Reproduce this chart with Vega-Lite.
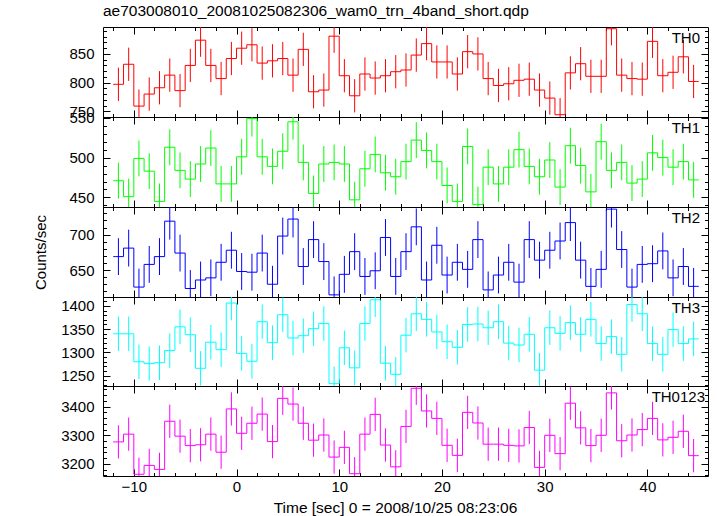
{
  "$schema": "https://vega.github.io/schema/vega-lite/v6.json",
  "padding": {"left": 33, "top": 3, "right": 5, "bottom": 3},
  "title": {"text": "ae703008010_20081025082306_wam0_trn_4band_short.qdp", "anchor": "start", "frame": "group", "offset": -7, "baseline": "alphabetic", "fontSize": 15.5, "font": "Liberation Sans", "fontWeight": "normal", "color": "#000"},
  "config": {
    "view": {"stroke": null},
    "style": {"group-title": {"fontSize": 15.5, "font": "Liberation Sans", "fontWeight": "normal"}},
    "axis": {"domainColor": "#000", "domainWidth": 1, "tickColor": "#000", "tickWidth": 1, "labelFont": "Liberation Sans", "labelFontSize": 15, "labelColor": "#000", "grid": false, "labelOverlap": false, "labelFlush": false, "titleFont": "Liberation Sans", "titleFontSize": 15.5, "titleFontWeight": "normal", "titleColor": "#000", "format": "d"},
    "title": {"font": "Liberation Sans", "fontSize": 15.5, "fontWeight": "normal", "color": "#000"},
    "text": {"font": "Liberation Sans", "fontSize": 15, "color": "#000", "align": "right", "baseline": "top", "dx": -8, "dy": 4}
  },
  "bounds": "flush",
  "spacing": 0,
  "datasets": {
    "TH0": [
      {"t": -12, "rate": 797},
      {"t": -11.5, "rate": 797, "err": 29}, {"t": -10.5, "rate": 832, "err": 29}, {"t": -9.5, "rate": 759, "err": 29}, {"t": -8.5, "rate": 780, "err": 29}, {"t": -7.5, "rate": 791, "err": 29}, {"t": -6.5, "rate": 813, "err": 29}, {"t": -5.5, "rate": 786, "err": 29}, {"t": -4.5, "rate": 830, "err": 29}, {"t": -3.5, "rate": 874, "err": 29}, {"t": -2.5, "rate": 830, "err": 29},
      {"t": -1.5, "rate": 807, "err": 29}, {"t": -0.5, "rate": 842, "err": 29}, {"t": 0.5, "rate": 860, "err": 29}, {"t": 1.5, "rate": 866, "err": 29}, {"t": 2.5, "rate": 834, "err": 29}, {"t": 3.5, "rate": 838, "err": 29}, {"t": 4.5, "rate": 842, "err": 29}, {"t": 5.5, "rate": 813, "err": 29}, {"t": 6.5, "rate": 858, "err": 29}, {"t": 7.5, "rate": 784, "err": 29},
      {"t": 8.5, "rate": 787, "err": 29}, {"t": 9.5, "rate": 881, "err": 29}, {"t": 10.5, "rate": 812, "err": 29}, {"t": 11.5, "rate": 777, "err": 29}, {"t": 12.5, "rate": 815, "err": 29}, {"t": 13.5, "rate": 808, "err": 29}, {"t": 14.5, "rate": 812, "err": 29}, {"t": 15.5, "rate": 819, "err": 29}, {"t": 16.5, "rate": 822, "err": 29}, {"t": 17.5, "rate": 848, "err": 29},
      {"t": 18.5, "rate": 868, "err": 29}, {"t": 19.5, "rate": 836, "err": 29}, {"t": 20.5, "rate": 836, "err": 29}, {"t": 21.5, "rate": 815, "err": 29}, {"t": 22.5, "rate": 854, "err": 29}, {"t": 23.5, "rate": 850, "err": 29}, {"t": 24.5, "rate": 807, "err": 29}, {"t": 25.5, "rate": 795, "err": 29}, {"t": 26.5, "rate": 798, "err": 29}, {"t": 27.5, "rate": 804, "err": 29},
      {"t": 28.5, "rate": 806, "err": 29}, {"t": 29.5, "rate": 787, "err": 29}, {"t": 30.5, "rate": 773, "err": 29}, {"t": 31.5, "rate": 744, "err": 29}, {"t": 32.5, "rate": 817, "err": 29}, {"t": 33.5, "rate": 833, "err": 29}, {"t": 34.5, "rate": 811, "err": 29}, {"t": 35.5, "rate": 811, "err": 29}, {"t": 36.5, "rate": 894, "err": 29}, {"t": 37.5, "rate": 813, "err": 29},
      {"t": 38.5, "rate": 807, "err": 29}, {"t": 39.5, "rate": 806, "err": 29}, {"t": 40.5, "rate": 872, "err": 29}, {"t": 41.5, "rate": 812, "err": 29}, {"t": 42.5, "rate": 818, "err": 29}, {"t": 43.5, "rate": 845, "err": 29}, {"t": 44.5, "rate": 802, "err": 29},
      {"t": 45, "rate": 802}
    ],
    "TH1": [
      {"t": -12, "rate": 471},
      {"t": -11.5, "rate": 471, "err": 22.5}, {"t": -10.5, "rate": 451, "err": 22.5}, {"t": -9.5, "rate": 499, "err": 22.5}, {"t": -8.5, "rate": 483, "err": 22.5}, {"t": -7.5, "rate": 445, "err": 22.5}, {"t": -6.5, "rate": 513, "err": 22.5}, {"t": -5.5, "rate": 484, "err": 22.5}, {"t": -4.5, "rate": 473, "err": 22.5}, {"t": -3.5, "rate": 492, "err": 22.5}, {"t": -2.5, "rate": 512, "err": 22.5},
      {"t": -1.5, "rate": 467, "err": 22.5}, {"t": -0.5, "rate": 467, "err": 22.5}, {"t": 0.5, "rate": 501, "err": 22.5}, {"t": 1.5, "rate": 549, "err": 22.5}, {"t": 2.5, "rate": 501, "err": 22.5}, {"t": 3.5, "rate": 489, "err": 22.5}, {"t": 4.5, "rate": 508, "err": 22.5}, {"t": 5.5, "rate": 545, "err": 22.5}, {"t": 6.5, "rate": 494, "err": 22.5}, {"t": 7.5, "rate": 455, "err": 22.5},
      {"t": 8.5, "rate": 492, "err": 22.5}, {"t": 9.5, "rate": 494, "err": 22.5}, {"t": 10.5, "rate": 492, "err": 22.5}, {"t": 11.5, "rate": 447, "err": 22.5}, {"t": 12.5, "rate": 486, "err": 22.5}, {"t": 13.5, "rate": 504, "err": 22.5}, {"t": 14.5, "rate": 481, "err": 22.5}, {"t": 15.5, "rate": 476, "err": 22.5}, {"t": 16.5, "rate": 495, "err": 22.5}, {"t": 17.5, "rate": 522, "err": 22.5},
      {"t": 18.5, "rate": 509, "err": 22.5}, {"t": 19.5, "rate": 495, "err": 22.5}, {"t": 20.5, "rate": 465, "err": 22.5}, {"t": 21.5, "rate": 445, "err": 22.5}, {"t": 22.5, "rate": 514, "err": 22.5}, {"t": 23.5, "rate": 441, "err": 22.5}, {"t": 24.5, "rate": 488, "err": 22.5}, {"t": 25.5, "rate": 467, "err": 22.5}, {"t": 26.5, "rate": 488, "err": 22.5}, {"t": 27.5, "rate": 510, "err": 22.5},
      {"t": 28.5, "rate": 489, "err": 22.5}, {"t": 29.5, "rate": 476, "err": 22.5}, {"t": 30.5, "rate": 497, "err": 22.5}, {"t": 31.5, "rate": 463, "err": 22.5}, {"t": 32.5, "rate": 515, "err": 22.5}, {"t": 33.5, "rate": 490, "err": 22.5}, {"t": 34.5, "rate": 457, "err": 22.5}, {"t": 35.5, "rate": 520, "err": 22.5}, {"t": 36.5, "rate": 484, "err": 22.5}, {"t": 37.5, "rate": 494, "err": 22.5},
      {"t": 38.5, "rate": 468, "err": 22.5}, {"t": 39.5, "rate": 473, "err": 22.5}, {"t": 40.5, "rate": 506, "err": 22.5}, {"t": 41.5, "rate": 500, "err": 22.5}, {"t": 42.5, "rate": 488, "err": 22.5}, {"t": 43.5, "rate": 495, "err": 22.5}, {"t": 44.5, "rate": 472, "err": 22.5},
      {"t": 45, "rate": 472}
    ],
    "TH2": [
      {"t": -12, "rate": 669},
      {"t": -11.5, "rate": 669, "err": 26}, {"t": -10.5, "rate": 681, "err": 26}, {"t": -9.5, "rate": 626, "err": 26}, {"t": -8.5, "rate": 658, "err": 26}, {"t": -7.5, "rate": 669, "err": 26}, {"t": -6.5, "rate": 719, "err": 26}, {"t": -5.5, "rate": 674, "err": 26}, {"t": -4.5, "rate": 624, "err": 26}, {"t": -3.5, "rate": 636, "err": 26}, {"t": -2.5, "rate": 639, "err": 26},
      {"t": -1.5, "rate": 661, "err": 26}, {"t": -0.5, "rate": 678, "err": 26}, {"t": 0.5, "rate": 648, "err": 26}, {"t": 1.5, "rate": 647, "err": 26}, {"t": 2.5, "rate": 674, "err": 26}, {"t": 3.5, "rate": 630, "err": 26}, {"t": 4.5, "rate": 698, "err": 26}, {"t": 5.5, "rate": 722, "err": 26}, {"t": 6.5, "rate": 655, "err": 26}, {"t": 7.5, "rate": 693, "err": 26},
      {"t": 8.5, "rate": 662, "err": 26}, {"t": 9.5, "rate": 615, "err": 26}, {"t": 10.5, "rate": 644, "err": 26}, {"t": 11.5, "rate": 676, "err": 26}, {"t": 12.5, "rate": 641, "err": 26}, {"t": 13.5, "rate": 649, "err": 26}, {"t": 14.5, "rate": 696, "err": 26}, {"t": 15.5, "rate": 641, "err": 26}, {"t": 16.5, "rate": 676, "err": 26}, {"t": 17.5, "rate": 711, "err": 26},
      {"t": 18.5, "rate": 636, "err": 26}, {"t": 19.5, "rate": 685, "err": 26}, {"t": 20.5, "rate": 643, "err": 26}, {"t": 21.5, "rate": 661, "err": 26}, {"t": 22.5, "rate": 651, "err": 26}, {"t": 23.5, "rate": 693, "err": 26}, {"t": 24.5, "rate": 622, "err": 26}, {"t": 25.5, "rate": 643, "err": 26}, {"t": 26.5, "rate": 661, "err": 26}, {"t": 27.5, "rate": 633, "err": 26},
      {"t": 28.5, "rate": 693, "err": 26}, {"t": 29.5, "rate": 664, "err": 26}, {"t": 30.5, "rate": 678, "err": 26}, {"t": 31.5, "rate": 691, "err": 26}, {"t": 32.5, "rate": 717, "err": 26}, {"t": 33.5, "rate": 664, "err": 26}, {"t": 34.5, "rate": 627, "err": 26}, {"t": 35.5, "rate": 651, "err": 26}, {"t": 36.5, "rate": 736, "err": 26}, {"t": 37.5, "rate": 679, "err": 26},
      {"t": 38.5, "rate": 626, "err": 26}, {"t": 39.5, "rate": 658, "err": 26}, {"t": 40.5, "rate": 659, "err": 26}, {"t": 41.5, "rate": 677, "err": 26}, {"t": 42.5, "rate": 639, "err": 26}, {"t": 43.5, "rate": 655, "err": 26}, {"t": 44.5, "rate": 627, "err": 26},
      {"t": 45, "rate": 627}
    ],
    "TH3": [
      {"t": -12, "rate": 1340},
      {"t": -11.5, "rate": 1340, "err": 37}, {"t": -10.5, "rate": 1340, "err": 37}, {"t": -9.5, "rate": 1280, "err": 37}, {"t": -8.5, "rate": 1276, "err": 37}, {"t": -7.5, "rate": 1278, "err": 37}, {"t": -6.5, "rate": 1304, "err": 37}, {"t": -5.5, "rate": 1355, "err": 37}, {"t": -4.5, "rate": 1338, "err": 37}, {"t": -3.5, "rate": 1266, "err": 37}, {"t": -2.5, "rate": 1322, "err": 37},
      {"t": -1.5, "rate": 1306, "err": 37}, {"t": -0.5, "rate": 1406, "err": 37}, {"t": 0.5, "rate": 1298, "err": 37}, {"t": 1.5, "rate": 1281, "err": 37}, {"t": 2.5, "rate": 1366, "err": 37}, {"t": 3.5, "rate": 1321, "err": 37}, {"t": 4.5, "rate": 1381, "err": 37}, {"t": 5.5, "rate": 1331, "err": 37}, {"t": 6.5, "rate": 1336, "err": 37}, {"t": 7.5, "rate": 1351, "err": 37},
      {"t": 8.5, "rate": 1362, "err": 37}, {"t": 9.5, "rate": 1233, "err": 37}, {"t": 10.5, "rate": 1310, "err": 37}, {"t": 11.5, "rate": 1267, "err": 37}, {"t": 12.5, "rate": 1362, "err": 37}, {"t": 13.5, "rate": 1413, "err": 37}, {"t": 14.5, "rate": 1277, "err": 37}, {"t": 15.5, "rate": 1253, "err": 37}, {"t": 16.5, "rate": 1337, "err": 37}, {"t": 17.5, "rate": 1383, "err": 37},
      {"t": 18.5, "rate": 1371, "err": 37}, {"t": 19.5, "rate": 1344, "err": 37}, {"t": 20.5, "rate": 1323, "err": 37}, {"t": 21.5, "rate": 1311, "err": 37}, {"t": 22.5, "rate": 1360, "err": 37}, {"t": 23.5, "rate": 1361, "err": 37}, {"t": 24.5, "rate": 1353, "err": 37}, {"t": 25.5, "rate": 1366, "err": 37}, {"t": 26.5, "rate": 1320, "err": 37}, {"t": 27.5, "rate": 1316, "err": 37},
      {"t": 28.5, "rate": 1339, "err": 37}, {"t": 29.5, "rate": 1262, "err": 37}, {"t": 30.5, "rate": 1353, "err": 37}, {"t": 31.5, "rate": 1341, "err": 37}, {"t": 32.5, "rate": 1364, "err": 37}, {"t": 33.5, "rate": 1339, "err": 37}, {"t": 34.5, "rate": 1371, "err": 37}, {"t": 35.5, "rate": 1319, "err": 37}, {"t": 36.5, "rate": 1334, "err": 37}, {"t": 37.5, "rate": 1296, "err": 37},
      {"t": 38.5, "rate": 1403, "err": 37}, {"t": 39.5, "rate": 1383, "err": 37}, {"t": 40.5, "rate": 1319, "err": 37}, {"t": 41.5, "rate": 1296, "err": 37}, {"t": 42.5, "rate": 1349, "err": 37}, {"t": 43.5, "rate": 1319, "err": 37}, {"t": 44.5, "rate": 1329, "err": 37},
      {"t": 45, "rate": 1329}
    ],
    "TH0123": [
      {"t": -12, "rate": 3277},
      {"t": -11.5, "rate": 3277, "err": 58}, {"t": -10.5, "rate": 3304, "err": 58}, {"t": -9.5, "rate": 3164, "err": 58}, {"t": -8.5, "rate": 3195, "err": 58}, {"t": -7.5, "rate": 3181, "err": 58}, {"t": -6.5, "rate": 3349, "err": 58}, {"t": -5.5, "rate": 3297, "err": 58}, {"t": -4.5, "rate": 3264, "err": 58}, {"t": -3.5, "rate": 3267, "err": 58}, {"t": -2.5, "rate": 3304, "err": 58},
      {"t": -1.5, "rate": 3241, "err": 58}, {"t": -0.5, "rate": 3392, "err": 58}, {"t": 0.5, "rate": 3307, "err": 58}, {"t": 1.5, "rate": 3342, "err": 58}, {"t": 2.5, "rate": 3374, "err": 58}, {"t": 3.5, "rate": 3278, "err": 58}, {"t": 4.5, "rate": 3429, "err": 58}, {"t": 5.5, "rate": 3409, "err": 58}, {"t": 6.5, "rate": 3342, "err": 58}, {"t": 7.5, "rate": 3283, "err": 58},
      {"t": 8.5, "rate": 3301, "err": 58}, {"t": 9.5, "rate": 3224, "err": 58}, {"t": 10.5, "rate": 3258, "err": 58}, {"t": 11.5, "rate": 3166, "err": 58}, {"t": 12.5, "rate": 3304, "err": 58}, {"t": 13.5, "rate": 3373, "err": 58}, {"t": 14.5, "rate": 3266, "err": 58}, {"t": 15.5, "rate": 3190, "err": 58}, {"t": 16.5, "rate": 3331, "err": 58}, {"t": 17.5, "rate": 3464, "err": 58},
      {"t": 18.5, "rate": 3385, "err": 58}, {"t": 19.5, "rate": 3359, "err": 58}, {"t": 20.5, "rate": 3265, "err": 58}, {"t": 21.5, "rate": 3230, "err": 58}, {"t": 22.5, "rate": 3380, "err": 58}, {"t": 23.5, "rate": 3343, "err": 58}, {"t": 24.5, "rate": 3269, "err": 58}, {"t": 25.5, "rate": 3269, "err": 58}, {"t": 26.5, "rate": 3265, "err": 58}, {"t": 27.5, "rate": 3263, "err": 58},
      {"t": 28.5, "rate": 3327, "err": 58}, {"t": 29.5, "rate": 3188, "err": 58}, {"t": 30.5, "rate": 3300, "err": 58}, {"t": 31.5, "rate": 3236, "err": 58}, {"t": 32.5, "rate": 3412, "err": 58}, {"t": 33.5, "rate": 3326, "err": 58}, {"t": 34.5, "rate": 3264, "err": 58}, {"t": 35.5, "rate": 3300, "err": 58}, {"t": 36.5, "rate": 3448, "err": 58}, {"t": 37.5, "rate": 3281, "err": 58},
      {"t": 38.5, "rate": 3301, "err": 58}, {"t": 39.5, "rate": 3320, "err": 58}, {"t": 40.5, "rate": 3359, "err": 58}, {"t": 41.5, "rate": 3284, "err": 58}, {"t": 42.5, "rate": 3293, "err": 58}, {"t": 43.5, "rate": 3314, "err": 58}, {"t": 44.5, "rate": 3229, "err": 58},
      {"t": 45, "rate": 3229}
    ]
  },
  "vconcat": [
    {
      "data": {"name": "TH0"},
      "width": 605, "height": 90,
      "layer": [
        {"mark": {"type": "line", "interpolate": "step", "color": "#ff0000", "strokeWidth": 1, "clip": true},
         "encoding": {
           "x": {"field": "t", "type": "quantitative", "scale": {"domain": [-13, 45.9], "nice": false, "zero": false},
                 "axis": {"orient": "bottom", "values": [-12,-10,-8,-6,-4,-2,0,2,4,6,8,10,12,14,16,18,20,22,24,26,28,30,32,34,36,38,40,42,44], "tickSize": {"condition": {"test": "datum.value % 10 === 0", "value": -7}, "value": -3.5}, "labels": false, "title": null}},
           "y": {"field": "rate", "type": "quantitative", "scale": {"domain": [740, 897], "nice": false, "zero": false},
                 "axis": {"orient": "left", "values": [750,760,770,780,790,800,810,820,830,840,850,860,870,880,890], "tickSize": {"condition": {"test": "datum.value % 50 === 0", "value": -7}, "value": -3.5}, "labelExpr": "datum.value % 50 === 0 ? datum.label : ''", "labelPadding": 16, "title": null}}
         }},
        {"transform": [{"filter": "isValid(datum.err)"}],
         "mark": {"type": "errorbar", "color": "#ff0000", "clip": true, "thickness": 1},
         "encoding": {
           "x": {"field": "t", "type": "quantitative",
                 "axis": {"orient": "top", "values": [-12,-10,-8,-6,-4,-2,0,2,4,6,8,10,12,14,16,18,20,22,24,26,28,30,32,34,36,38,40,42,44], "tickSize": {"condition": {"test": "datum.value % 10 === 0", "value": -7}, "value": -3.5}, "labels": false, "title": null}},
           "y": {"field": "rate", "type": "quantitative",
                 "axis": {"orient": "right", "values": [750,760,770,780,790,800,810,820,830,840,850,860,870,880,890], "tickSize": {"condition": {"test": "datum.value % 50 === 0", "value": -7}, "value": -3.5}, "labels": false, "title": null}},
           "yError": {"field": "err"}
         }},
        {"data": {"values": [{"band": "TH0"}]},
         "mark": {"type": "text"},
         "encoding": {
           "text": {"field": "band"},
           "x": {"datum": 45.9, "type": "quantitative", "axis": null},
           "y": {"datum": 897, "type": "quantitative", "axis": null}
         }}
      ],
      "resolve": {"axis": {"x": "independent", "y": "independent"}}
    },
    {
      "data": {"name": "TH1"},
      "width": 605, "height": 90,
      "layer": [
        {"mark": {"type": "line", "interpolate": "step", "color": "#00ff00", "strokeWidth": 1, "clip": true},
         "encoding": {
           "x": {"field": "t", "type": "quantitative", "scale": {"domain": [-13, 45.9], "nice": false, "zero": false},
                 "axis": {"orient": "bottom", "values": [-12,-10,-8,-6,-4,-2,0,2,4,6,8,10,12,14,16,18,20,22,24,26,28,30,32,34,36,38,40,42,44], "tickSize": {"condition": {"test": "datum.value % 10 === 0", "value": -7}, "value": -3.5}, "labels": false, "title": null}},
           "y": {"field": "rate", "type": "quantitative", "scale": {"domain": [438, 551], "nice": false, "zero": false},
                 "axis": {"orient": "left", "values": [440,450,460,470,480,490,500,510,520,530,540,550], "tickSize": {"condition": {"test": "datum.value % 50 === 0", "value": -7}, "value": -3.5}, "labelExpr": "datum.value % 50 === 0 ? datum.label : ''", "labelPadding": 16, "title": null}}
         }},
        {"transform": [{"filter": "isValid(datum.err)"}],
         "mark": {"type": "errorbar", "color": "#00ff00", "clip": true, "thickness": 1},
         "encoding": {
           "x": {"field": "t", "type": "quantitative",
                 "axis": {"orient": "top", "values": [-12,-10,-8,-6,-4,-2,0,2,4,6,8,10,12,14,16,18,20,22,24,26,28,30,32,34,36,38,40,42,44], "tickSize": {"condition": {"test": "datum.value % 10 === 0", "value": -7}, "value": -3.5}, "labels": false, "title": null}},
           "y": {"field": "rate", "type": "quantitative",
                 "axis": {"orient": "right", "values": [440,450,460,470,480,490,500,510,520,530,540,550], "tickSize": {"condition": {"test": "datum.value % 50 === 0", "value": -7}, "value": -3.5}, "labels": false, "title": null}},
           "yError": {"field": "err"}
         }},
        {"data": {"values": [{"band": "TH1"}]},
         "mark": {"type": "text"},
         "encoding": {
           "text": {"field": "band"},
           "x": {"datum": 45.9, "type": "quantitative", "axis": null},
           "y": {"datum": 551, "type": "quantitative", "axis": null}
         }}
      ],
      "resolve": {"axis": {"x": "independent", "y": "independent"}}
    },
    {
      "data": {"name": "TH2"},
      "width": 605, "height": 90,
      "layer": [
        {"mark": {"type": "line", "interpolate": "step", "color": "#0000ff", "strokeWidth": 1, "clip": true},
         "encoding": {
           "x": {"field": "t", "type": "quantitative", "scale": {"domain": [-13, 45.9], "nice": false, "zero": false},
                 "axis": {"orient": "bottom", "values": [-12,-10,-8,-6,-4,-2,0,2,4,6,8,10,12,14,16,18,20,22,24,26,28,30,32,34,36,38,40,42,44], "tickSize": {"condition": {"test": "datum.value % 10 === 0", "value": -7}, "value": -3.5}, "labels": false, "title": null}},
           "y": {"field": "rate", "type": "quantitative", "scale": {"domain": [612, 739], "nice": false, "zero": false},
                 "axis": {"orient": "left", "values": [620,630,640,650,660,670,680,690,700,710,720,730], "tickSize": {"condition": {"test": "datum.value % 50 === 0", "value": -7}, "value": -3.5}, "labelExpr": "datum.value % 50 === 0 ? datum.label : ''", "labelPadding": 16, "title": "Counts/sec", "titleFontSize": 15, "titlePadding": 20}}
         }},
        {"transform": [{"filter": "isValid(datum.err)"}],
         "mark": {"type": "errorbar", "color": "#0000ff", "clip": true, "thickness": 1},
         "encoding": {
           "x": {"field": "t", "type": "quantitative",
                 "axis": {"orient": "top", "values": [-12,-10,-8,-6,-4,-2,0,2,4,6,8,10,12,14,16,18,20,22,24,26,28,30,32,34,36,38,40,42,44], "tickSize": {"condition": {"test": "datum.value % 10 === 0", "value": -7}, "value": -3.5}, "labels": false, "title": null}},
           "y": {"field": "rate", "type": "quantitative",
                 "axis": {"orient": "right", "values": [620,630,640,650,660,670,680,690,700,710,720,730], "tickSize": {"condition": {"test": "datum.value % 50 === 0", "value": -7}, "value": -3.5}, "labels": false, "title": null}},
           "yError": {"field": "err"}
         }},
        {"data": {"values": [{"band": "TH2"}]},
         "mark": {"type": "text"},
         "encoding": {
           "text": {"field": "band"},
           "x": {"datum": 45.9, "type": "quantitative", "axis": null},
           "y": {"datum": 739, "type": "quantitative", "axis": null}
         }}
      ],
      "resolve": {"axis": {"x": "independent", "y": "independent"}}
    },
    {
      "data": {"name": "TH3"},
      "width": 605, "height": 89,
      "layer": [
        {"mark": {"type": "line", "interpolate": "step", "color": "#00ffff", "strokeWidth": 1, "clip": true},
         "encoding": {
           "x": {"field": "t", "type": "quantitative", "scale": {"domain": [-13, 45.9], "nice": false, "zero": false},
                 "axis": {"orient": "bottom", "values": [-12,-10,-8,-6,-4,-2,0,2,4,6,8,10,12,14,16,18,20,22,24,26,28,30,32,34,36,38,40,42,44], "tickSize": {"condition": {"test": "datum.value % 10 === 0", "value": -7}, "value": -3.5}, "labels": false, "title": null}},
           "y": {"field": "rate", "type": "quantitative", "scale": {"domain": [1228, 1419], "nice": false, "zero": false},
                 "axis": {"orient": "left", "values": [1230,1240,1250,1260,1270,1280,1290,1300,1310,1320,1330,1340,1350,1360,1370,1380,1390,1400,1410], "tickSize": {"condition": {"test": "datum.value % 50 === 0", "value": -7}, "value": -3.5}, "labelExpr": "datum.value % 50 === 0 ? datum.label : ''", "labelPadding": 16, "title": null}}
         }},
        {"transform": [{"filter": "isValid(datum.err)"}],
         "mark": {"type": "errorbar", "color": "#00ffff", "clip": true, "thickness": 1},
         "encoding": {
           "x": {"field": "t", "type": "quantitative",
                 "axis": {"orient": "top", "values": [-12,-10,-8,-6,-4,-2,0,2,4,6,8,10,12,14,16,18,20,22,24,26,28,30,32,34,36,38,40,42,44], "tickSize": {"condition": {"test": "datum.value % 10 === 0", "value": -7}, "value": -3.5}, "labels": false, "title": null}},
           "y": {"field": "rate", "type": "quantitative",
                 "axis": {"orient": "right", "values": [1230,1240,1250,1260,1270,1280,1290,1300,1310,1320,1330,1340,1350,1360,1370,1380,1390,1400,1410], "tickSize": {"condition": {"test": "datum.value % 50 === 0", "value": -7}, "value": -3.5}, "labels": false, "title": null}},
           "yError": {"field": "err"}
         }},
        {"data": {"values": [{"band": "TH3"}]},
         "mark": {"type": "text"},
         "encoding": {
           "text": {"field": "band"},
           "x": {"datum": 45.9, "type": "quantitative", "axis": null},
           "y": {"datum": 1419, "type": "quantitative", "axis": null}
         }}
      ],
      "resolve": {"axis": {"x": "independent", "y": "independent"}}
    },
    {
      "data": {"name": "TH0123"},
      "width": 605, "height": 90,
      "layer": [
        {"mark": {"type": "line", "interpolate": "step", "color": "#ff00ff", "strokeWidth": 1, "clip": true},
         "encoding": {
           "x": {"field": "t", "type": "quantitative", "scale": {"domain": [-13, 45.9], "nice": false, "zero": false},
                 "axis": {"orient": "bottom", "values": [-12,-10,-8,-6,-4,-2,0,2,4,6,8,10,12,14,16,18,20,22,24,26,28,30,32,34,36,38,40,42,44], "tickSize": {"condition": {"test": "datum.value % 10 === 0", "value": -7}, "value": -3.5}, "labelExpr": "datum.value % 10 === 0 ? datum.label : ''", "labelPadding": 10, "title": "Time [sec] 0 = 2008/10/25 08:23:06", "titlePadding": 3, "titleX": 292}},
           "y": {"field": "rate", "type": "quantitative", "scale": {"domain": [3158, 3472], "nice": false, "zero": false},
                 "axis": {"orient": "left", "values": [3160,3180,3200,3220,3240,3260,3280,3300,3320,3340,3360,3380,3400,3420,3440,3460], "tickSize": {"condition": {"test": "datum.value % 100 === 0", "value": -7}, "value": -3.5}, "labelExpr": "datum.value % 100 === 0 ? datum.label : ''", "labelPadding": 16, "title": null}}
         }},
        {"transform": [{"filter": "isValid(datum.err)"}],
         "mark": {"type": "errorbar", "color": "#ff00ff", "clip": true, "thickness": 1},
         "encoding": {
           "x": {"field": "t", "type": "quantitative",
                 "axis": {"orient": "top", "values": [-12,-10,-8,-6,-4,-2,0,2,4,6,8,10,12,14,16,18,20,22,24,26,28,30,32,34,36,38,40,42,44], "tickSize": {"condition": {"test": "datum.value % 10 === 0", "value": -7}, "value": -3.5}, "labels": false, "title": null}},
           "y": {"field": "rate", "type": "quantitative",
                 "axis": {"orient": "right", "values": [3160,3180,3200,3220,3240,3260,3280,3300,3320,3340,3360,3380,3400,3420,3440,3460], "tickSize": {"condition": {"test": "datum.value % 100 === 0", "value": -7}, "value": -3.5}, "labels": false, "title": null}},
           "yError": {"field": "err"}
         }},
        {"data": {"values": [{"band": "TH0123"}]},
         "mark": {"type": "text", "dx": -3},
         "encoding": {
           "text": {"field": "band"},
           "x": {"datum": 45.9, "type": "quantitative", "axis": null},
           "y": {"datum": 3472, "type": "quantitative", "axis": null}
         }}
      ],
      "resolve": {"axis": {"x": "independent", "y": "independent"}}
    }
  ]
}
